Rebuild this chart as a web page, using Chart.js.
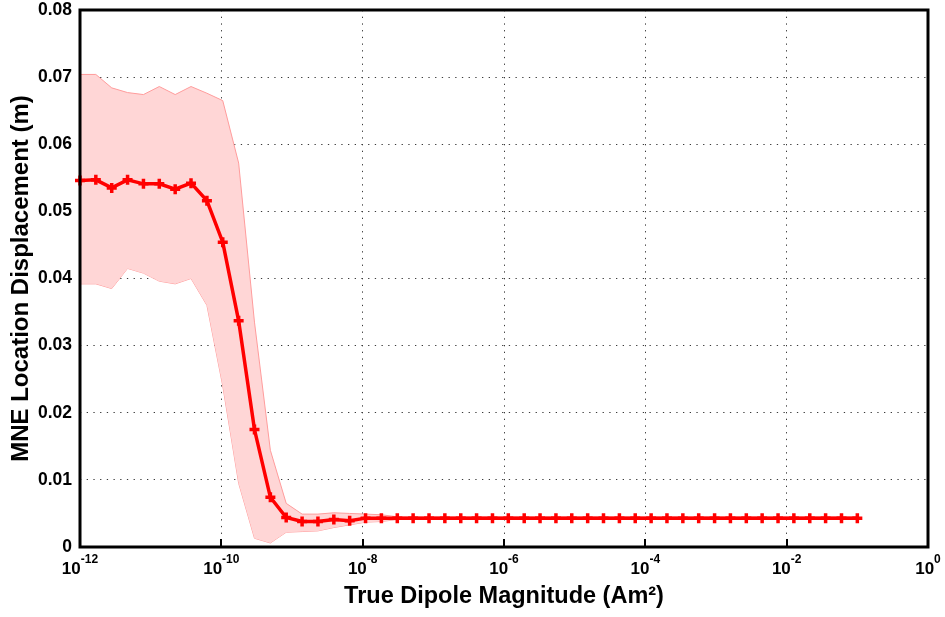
<!DOCTYPE html>
<html>
<head>
<meta charset="utf-8">
<script src="https://cdn.jsdelivr.net/npm/chart.js@4/dist/chart.umd.min.js"></script>
<style>
  html, body { margin: 0; padding: 0; background: #fff; }
  #wrap { width: 945px; height: 617px; }
</style>
</head>
<body>
<div id="wrap"><canvas id="c" width="945" height="617"></canvas></div>
<script>
// ---- data (x as log10 of dipole magnitude, Am^2) ----
const xExponents = [
  -12.000, -11.776, -11.551, -11.327, -11.102, -10.878, -10.653, -10.429, -10.204, -9.980,
  -9.755, -9.531, -9.306, -9.082, -8.857, -8.633, -8.408, -8.184, -7.959, -7.735,
  -7.510, -7.286, -7.061, -6.837, -6.612, -6.388, -6.163, -5.939, -5.714, -5.490,
  -5.265, -5.041, -4.816, -4.592, -4.367, -4.143, -3.918, -3.694, -3.469, -3.245,
  -3.020, -2.796, -2.571, -2.347, -2.122, -1.898, -1.673, -1.449, -1.224, -1.000
];
const meanDisp = [
  0.0546, 0.0547, 0.0535, 0.0547, 0.0541, 0.0541, 0.0533, 0.0542, 0.0516, 0.0454,
  0.0337, 0.0175, 0.0074, 0.0044, 0.0038, 0.0038, 0.0041, 0.0039, 0.0043, 0.0043,
  0.0043, 0.0043, 0.0043, 0.0043, 0.0043, 0.0043, 0.0043, 0.0043, 0.0043, 0.0043,
  0.0043, 0.0043, 0.0043, 0.0043, 0.0043, 0.0043, 0.0043, 0.0043, 0.0043, 0.0043,
  0.0043, 0.0043, 0.0043, 0.0043, 0.0043, 0.0043, 0.0043, 0.0043, 0.0043, 0.0043
];
const upperDisp = [
  0.0704, 0.0704, 0.0684, 0.0677, 0.0674, 0.0686, 0.0674, 0.0686, 0.0676, 0.0665,
  0.0572, 0.0335, 0.0144, 0.0065, 0.0049, 0.0049, 0.0051, 0.0050, 0.0049, 0.0048,
  0.0045, 0.0045, 0.0045, 0.0045, 0.0045, 0.0045, 0.0045, 0.0045, 0.0045, 0.0045,
  0.0045, 0.0045, 0.0045, 0.0045, 0.0045, 0.0045, 0.0045, 0.0045, 0.0045, 0.0045,
  0.0045, 0.0045, 0.0045, 0.0045, 0.0045, 0.0045, 0.0045, 0.0045, 0.0045, 0.0045
];
const lowerDisp = [
  0.0392, 0.0392, 0.0385, 0.0415, 0.0408, 0.0396, 0.0392, 0.0400, 0.0360, 0.0240,
  0.0095, 0.0013, 0.0006, 0.0022, 0.0023, 0.0024, 0.0029, 0.0033, 0.0037, 0.0038,
  0.0041, 0.0041, 0.0041, 0.0041, 0.0041, 0.0041, 0.0041, 0.0041, 0.0041, 0.0041,
  0.0041, 0.0041, 0.0041, 0.0041, 0.0041, 0.0041, 0.0041, 0.0041, 0.0041, 0.0041,
  0.0041, 0.0041, 0.0041, 0.0041, 0.0041, 0.0041, 0.0041, 0.0041, 0.0041, 0.0041
];
const xTickExps = [-12, -10, -8, -6, -4, -2, 0];
const yTickValues = [0, 0.01, 0.02, 0.03, 0.04, 0.05, 0.06, 0.07, 0.08];
const xTitle = 'True Dipole Magnitude (Am\u00B2)';
const yTitle = 'MNE Location Displacement (m)';

// ---- styles ----
const FONT = "'Liberation Sans', Arial, Helvetica, sans-serif";
const RED = '#ff0000';
const BAND_FILL = '#ffd6d6';
const BAND_EDGE = '#ff9c9c';
const GRID = '#3a3a3a';
const DOTS = [1.3, 5.4];

const pts = arr => arr.map((v, i) => ({ x: Math.pow(10, xExponents[i]), y: v }));

const framePlugin = {
  id: 'frame',
  afterDatasetsDraw(chart) {
    const { ctx, chartArea: a, scales: { x } } = chart;
    ctx.save();
    ctx.fillStyle = '#000';
    xTickExps.forEach(e => {
      const px = x.getPixelForValue(Math.pow(10, e));
      ctx.fillRect(Math.round(px) - 1, a.bottom - 8, 2, 8);
    });
    ctx.strokeStyle = '#000';
    ctx.lineWidth = 3;
    ctx.strokeRect(a.left, a.top, a.right - a.left, a.bottom - a.top);
    ctx.restore();
  },
  afterDraw(chart) {
    const { ctx, chartArea: a, scales: { x } } = chart;
    ctx.save();
    ctx.fillStyle = '#000';
    ctx.textBaseline = 'alphabetic';
    ctx.textAlign = 'left';
    xTickExps.forEach(e => {
      const px = x.getPixelForValue(Math.pow(10, e));
      const base = '10';
      const exp = e === 0 ? '0' : String(e);
      ctx.font = 'bold 17px ' + FONT;
      const wb = ctx.measureText(base).width;
      ctx.font = 'bold 12px ' + FONT;
      const we = ctx.measureText(exp).width;
      const x0 = px - (wb + we) / 2;
      ctx.font = 'bold 17px ' + FONT;
      ctx.fillText(base, x0, a.bottom + 26.5);
      ctx.font = 'bold 12px ' + FONT;
      ctx.fillText(exp, x0 + wb, a.bottom + 16);
    });
    ctx.restore();
  }
};

new Chart(document.getElementById('c'), {
  type: 'line',
  data: {
    datasets: [
      { label: 'mean', data: pts(meanDisp), borderColor: RED, borderWidth: 3.5, fill: false,
        pointStyle: 'cross', pointRadius: 5, pointBorderWidth: 3.5, pointBorderColor: RED,
        pointBackgroundColor: RED, tension: 0, clip: false },
      { label: 'upper', data: pts(upperDisp), borderColor: BAND_EDGE, borderWidth: 1,
        backgroundColor: BAND_FILL, fill: '+1', pointRadius: 0, tension: 0 },
      { label: 'lower', data: pts(lowerDisp), borderColor: BAND_EDGE, borderWidth: 1,
        fill: false, pointRadius: 0, tension: 0 }
    ]
  },
  options: {
    responsive: false,
    animation: false,
    events: [],
    layout: { padding: { top: 10, right: 17, left: 0, bottom: 0 } },
    plugins: { legend: { display: false }, tooltip: { enabled: false } },
    scales: {
      x: {
        type: 'logarithmic',
        min: Math.pow(10, xTickExps[0]),
        max: Math.pow(10, xTickExps[xTickExps.length - 1]),
        afterBuildTicks: s => { s.ticks = xTickExps.map(e => ({ value: Math.pow(10, e) })); },
        afterFit: s => { s.height = 70; s.paddingLeft = 0; s.paddingRight = 0; },
        grid: { color: GRID, lineWidth: 1, drawTicks: false },
        border: { display: false, dash: DOTS },
        ticks: { display: false },
        title: { display: true, text: xTitle, color: '#000',
          font: { family: FONT, size: 23.5, weight: 'bold' }, padding: { top: 6, bottom: 6 } }
      },
      y: {
        min: 0, max: 0.08,
        afterBuildTicks: s => { s.ticks = yTickValues.map(v => ({ value: v })); },
        afterFit: s => { s.width = 80; s.paddingTop = 0; s.paddingBottom = 0; },
        grid: { color: GRID, lineWidth: 1, drawTicks: false },
        border: { display: false, dash: DOTS },
        ticks: { color: '#000', padding: 8, font: { family: FONT, size: 17.5, weight: 'bold' },
          callback: v => (v === 0 ? '0' : Number(v).toFixed(2)) },
        title: { display: true, text: yTitle, color: '#000',
          font: { family: FONT, size: 24, weight: 'bold' }, padding: { top: 7, bottom: 7 } }
      }
    }
  },
  plugins: [framePlugin]
});
</script>
</body>
</html>
